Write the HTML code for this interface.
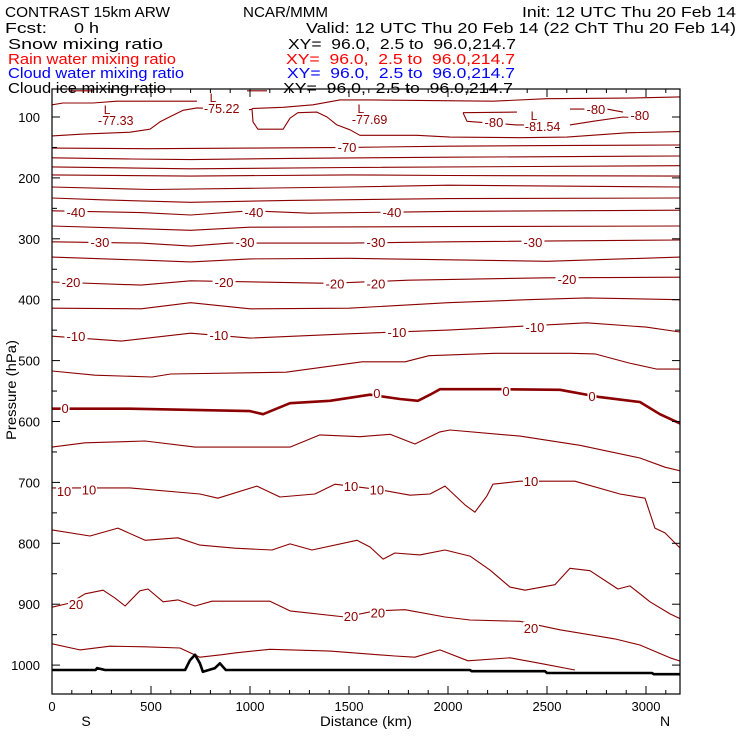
<!DOCTYPE html>
<html><head><meta charset="utf-8"><style>
html,body{margin:0;padding:0;background:#fff;}
svg{display:block;font-family:"Liberation Sans",sans-serif;}
</style></head><body>
<svg id="chart" width="740" height="740" viewBox="0 0 740 740" xmlns="http://www.w3.org/2000/svg">
<g font-size="15">
<text x="5" y="17" textLength="165" lengthAdjust="spacingAndGlyphs">CONTRAST 15km ARW</text>
<text x="243" y="17" textLength="85" lengthAdjust="spacingAndGlyphs">NCAR/MMM</text>
<text x="522" y="17" textLength="214" lengthAdjust="spacingAndGlyphs">Init: 12 UTC Thu 20 Feb 14</text>
<text x="5" y="33" textLength="42" lengthAdjust="spacingAndGlyphs">Fcst:</text>
<text x="74" y="33" textLength="25" lengthAdjust="spacingAndGlyphs">0 h</text>
<text x="306" y="33" textLength="430" lengthAdjust="spacingAndGlyphs">Valid: 12 UTC Thu 20 Feb 14 (22 ChT Thu 20 Feb 14)</text>
<text x="8" y="49" textLength="155" lengthAdjust="spacingAndGlyphs">Snow mixing ratio</text>
<text x="288" y="49" textLength="228" lengthAdjust="spacingAndGlyphs" xml:space="preserve">XY=  96.0,  2.5 to  96.0,214.7</text>
<text x="8" y="64" fill="#ff0000" textLength="168" lengthAdjust="spacingAndGlyphs">Rain water mixing ratio</text>
<text x="286" y="64" fill="#ff0000" textLength="229" lengthAdjust="spacingAndGlyphs" xml:space="preserve">XY=  96.0,  2.5 to  96.0,214.7</text>
<text x="8" y="78" fill="#0000ff" textLength="176" lengthAdjust="spacingAndGlyphs">Cloud water mixing ratio</text>
<text x="287" y="78" fill="#0000ff" textLength="228" lengthAdjust="spacingAndGlyphs" xml:space="preserve">XY=  96.0,  2.5 to  96.0,214.7</text>
<text x="8" y="93" textLength="158" lengthAdjust="spacingAndGlyphs">Cloud ice mixing ratio</text>
<text x="283" y="93" textLength="230" lengthAdjust="spacingAndGlyphs" xml:space="preserve">XY=  96.0,  2.5 to  96.0,214.7</text>
</g>
<g id="plot"></g>
<g id="axes"></g>
</svg>
<script>
// ---- data: contours as [distance km, pressure hPa] ----
const contourTemps = [-75,-75,-75,-75,-75,-70,-65,-60,-55,-50,-45,-40,-35,-30,-25,-20,-15,-10,-5,0,5,10,15,20,25,-80,-80,-80];
const contourPoints = [
 [[0,131],[157,128],[394,125],[495,120],[545,108],[581,102],[662,89],[732,85],[1000,88],[1010,87],[1015,108],[1040,120],[1167,120],[1202,102],[1242,93],[1338,92],[1389,100],[1439,113],[1505,121],[1555,130],[1843,130],[2010,133],[2363,134],[2601,133],[2904,126],[3171,124]],
 [[1010,86],[1167,84],[1318,80],[1454,72],[1606,72],[2227,74],[2500,70],[2904,69],[3171,67]],
 [[0,80],[56,77],[207,77],[328,74],[732,74]],
 [[91,57],[207,57]],
 [[985,57],[1086,57]],
 [[0,151],[500,152],[1000,151],[1500,150],[2000,148],[2500,147],[3171,146]],
 [[0,167],[400,169],[700,170],[1200,168],[2000,166],[3171,164]],
 [[0,182],[700,185],[1500,183],[3171,180]],
 [[0,195],[700,197],[1500,195],[2000,196],[3171,197]],
 [[0,215],[500,219],[1000,217],[1500,215],[2000,212],[3171,215]],
 [[0,233],[250,236],[700,240],[1200,237],[2000,234],[3171,233]],
 [[0,254],[450,257],[700,261],[1000,254],[1300,258],[2000,255],[3171,253]],
 [[0,279],[400,283],[700,286],[1000,281],[2000,280],[3171,279]],
 [[0,305],[450,307],[700,312],[900,307],[1500,307],[2000,305],[3171,302]],
 [[0,330],[450,335],[700,338],[1000,333],[1500,332],[2500,337],[3171,330]],
 [[0,371],[450,376],[700,369],[1400,373],[1800,368],[2500,364],[3171,363]],
 [[0,414],[450,415],[700,405],[1000,415],[1500,414],[2000,405],[2400,400],[2700,397],[3171,400]],
 [[0,460],[350,468],[700,455],[1000,463],[1500,456],[2000,450],[2700,438],[3000,445],[3171,453]],
 [[0,517],[217,524],[505,527],[600,522],[1182,519],[1566,502],[1783,502],[1904,492],[2237,488],[2621,488],[2742,489],[2914,504],[3055,514],[3197,514]],
 [[0,579],[394,579],[1000,583],[1066,588],[1202,570],[1404,566],[1606,556],[1757,563],[1848,566],[1909,556],[1959,547],[2262,547],[2565,548],[2767,560],[2969,568],[3070,588],[3197,607]],
 [[0,642],[167,635],[470,632],[722,642],[1202,642],[1353,622],[1555,625],[1707,621],[1833,637],[1959,617],[2010,614],[2363,624],[2666,639],[2969,660],[3096,675],[3197,683]],
 [[0,709],[394,709],[747,719],[838,726],[1035,706],[1151,724],[1328,719],[1429,703],[1656,712],[1808,721],[1909,719],[1985,706],[2086,737],[2136,749],[2197,722],[2227,703],[2363,698],[2641,698],[2868,719],[2995,726],[3045,775],[3096,783],[3197,816]],
 [[0,778],[192,788],[333,775],[470,795],[636,791],[747,803],[924,808],[1111,811],[1202,801],[1313,811],[1540,795],[1606,806],[1672,826],[1732,816],[1858,819],[1985,811],[2111,821],[2212,844],[2313,872],[2389,877],[2540,868],[2616,841],[2717,845],[2858,875],[2919,870],[3020,896],[3121,916],[3187,926]],
 [[0,905],[91,898],[167,883],[258,877],[318,890],[369,903],[444,878],[485,875],[561,896],[636,893],[722,903],[808,895],[1101,895],[1202,911],[1480,921],[1631,911],[1783,909],[1985,921],[2111,926],[2363,928],[2565,942],[2843,957],[2969,967],[3121,988],[3187,995]],
 [[0,965],[141,975],[293,969],[470,970],[646,972],[747,987],[859,983],[924,980],[1101,974],[1404,977],[1732,985],[1833,987],[1959,975],[2101,993],[2313,988],[2464,997],[2641,1008]],
 [[2076,93],[2096,107],[2136,108],[2348,113],[2616,113],[2732,107],[2884,100],[2990,102]],
 [[2076,93],[2348,92]],
 [[2616,87],[2803,87],[2884,92]]
];
const terrainKm = [0,220,228,268,672,697,722,747,762,823,848,878,2110,2120,2490,2500,3030,3040,3200];
const terrainHpa = [1008,1008,1005,1008,1008,992,983,997,1011,1005,997,1008,1008,1010,1010,1013,1013,1015,1015];
const pressureTicks = [100,200,300,400,500,600,700,800,900,1000];
const distanceTicks = [0,500,1000,1500,2000,2500,3000];
// contour labels
const labelKm =  [1490, 121,1020,1717, 242,975,1636,2429, 96,869,1429,1636,2601, 121,843,1742,2439, 66,1641,2293,2727, 61,187,1510,1641,2419, 121,1510,1646,2419, 2232,2747,2969];
const labelHpa = [149, 256,256,256, 305,305,305,305, 371,371,373,373,366, 460,458,453,445, 578,553,550,558, 714,712,706,712,698, 900,919,914,939, 108,87,97];
const labelText = ["-70","-40","-40","-40","-30","-30","-30","-30","-20","-20","-20","-20","-20","-10","-10","-10","-10","0","0","0","0","10","10","10","10","10","20","20","20","20","-80","-80","-80"];
const lowKm =  [278,813,1560,2434];
const lowHpa = [87,67,85,97];
const lowText = ["-77.33","-75.22","-77.69","-81.54"];

// ---- axes ----
const X0=52, X1=680, Y0=89, Y1=694;
const xs = km => X0 + km*0.198;
const ys = p => 117 + (p-100)*0.609;
const NS='http://www.w3.org/2000/svg';
const plot=document.getElementById('plot'), axes=document.getElementById('axes');
function mk(tag, attrs, parent){const e=document.createElementNS(NS,tag);for(const k in attrs)e.setAttribute(k,attrs[k]);parent.appendChild(e);return e;}
const defs=mk('defs',{},plot);
const cp=mk('clipPath',{id:'clip'},defs);mk('rect',{x:X0,y:Y0,width:X1-X0,height:Y1-Y0},cp);
const cg=mk('g',{'clip-path':'url(#clip)'},plot);
contourPoints.forEach((pts,i)=>{
  const d=pts.map((q,j)=>(j?'L':'M')+xs(q[0]).toFixed(1)+','+ys(q[1]).toFixed(1)).join('');
  const el=mk('path',{d:d,fill:'none',stroke:'#8b0000','stroke-width':contourTemps[i]===0?2.6:1.1,'stroke-linejoin':'round'},cg);
  
  
});
const td=terrainKm.map((k,j)=>(j?'L':'M')+xs(k).toFixed(1)+','+ys(terrainHpa[j]).toFixed(1)).join('');
const ter=mk('path',{d:td,fill:'none',stroke:'#000','stroke-width':2.6,'stroke-linejoin':'round'},cg);


// labels
labelKm.forEach((k,i)=>{
  const x=xs(k), y=ys(labelHpa[i]);
  const w=labelText[i].length*7+2;
  const r=mk('rect',{x:x-w/2,y:y-6,width:w,height:12,fill:'#fff'},cg);
  
  
  const t=mk('text',{x:x,y:y+5,'text-anchor':'middle','font-size':13,fill:'#8b0000'},cg);
  t.textContent=labelText[i];
  
  
});
lowKm.forEach((k,i)=>{
  const x=xs(k), y=ys(lowHpa[i]);
  const l=mk('text',{x:x,y:y+5,'text-anchor':'middle','font-size':12,fill:'#8b0000'},cg);
  l.textContent='L';
  
  
  const bg=mk('rect',{x:x-10,y:y+6,width:lowText[i].length*7+4,height:12,fill:'#fff'},cg);
  
  
  const v=mk('text',{x:x-9,y:y+16,'font-size':12.5,fill:'#8b0000'},cg);
  v.textContent=lowText[i];
  
  
});
// frame
const fr=mk('rect',{x:X0,y:Y0,width:X1-X0,height:Y1-Y0,fill:'none',stroke:'#000','stroke-width':1.2},axes);


// pressure ticks
for(let p=100;p<=1050;p+=50){
  const y=ys(p); if(y<Y0||y>Y1) continue;
  const len=(p%100===0)?8:5;
  mk('line',{x1:X0,x2:X0+len,y1:y,y2:y,stroke:'#000','stroke-width':1},axes);
  mk('line',{x1:X1-len,x2:X1,y1:y,y2:y,stroke:'#000','stroke-width':1},axes);
}
pressureTicks.forEach(p=>{
  const t=mk('text',{x:40,y:ys(p)+5,'text-anchor':'end','font-size':13},axes);
  t.textContent=p;
  
  
});
for(let k=0;k<=3150;k+=100){
  const x=xs(k); const len=(k%500===0)?8:4;
  mk('line',{x1:x,x2:x,y1:Y1,y2:Y1-len,stroke:'#000','stroke-width':1},axes);
  mk('line',{x1:x,x2:x,y1:Y0,y2:Y0+len,stroke:'#000','stroke-width':1},axes);
}
distanceTicks.forEach(k=>{
  const t=mk('text',{x:xs(k),y:711,'text-anchor':'middle','font-size':13},axes);
  t.textContent=k;
  
  
});
</script>
<svg style="position:absolute;left:0;top:0" width="740" height="740">
<text x="86" y="726" text-anchor="middle" font-size="14">S</text>
<text x="366" y="726" text-anchor="middle" font-size="14" textLength="92" lengthAdjust="spacingAndGlyphs">Distance (km)</text>
<text x="665" y="726" text-anchor="middle" font-size="14">N</text>
<text transform="translate(16,390) rotate(-90)" text-anchor="middle" font-size="14" textLength="100" lengthAdjust="spacingAndGlyphs">Pressure (hPa)</text>
</svg>
</body></html>
